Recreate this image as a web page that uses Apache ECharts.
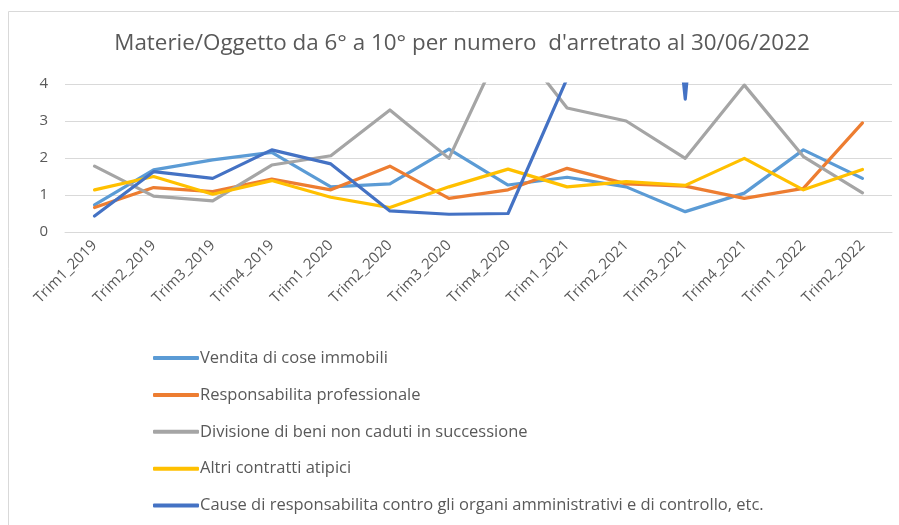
<!DOCTYPE html>
<html>
<head>
<meta charset="utf-8">
<script src="https://cdn.jsdelivr.net/npm/echarts@6/dist/echarts.min.js"></script>
<style>
html,body{margin:0;padding:0;background:#fff;}
#c{width:899px;height:525px;}
</style>
</head>
<body>
<div id="c"></div>
<script>
const categories = ["Trim1_2019","Trim2_2019","Trim3_2019","Trim4_2019","Trim1_2020","Trim2_2020","Trim3_2020","Trim4_2020","Trim1_2021","Trim2_2021","Trim3_2021","Trim4_2021","Trim1_2022","Trim2_2022"];
const seriesNames = ["Vendita di cose immobili","Responsabilita professionale","Divisione di beni non caduti in successione","Altri contratti atipici","Cause di responsabilita contro gli organi amministrativi e di controllo, etc."];
const vendita   = [0.73,1.68,1.95,2.15,1.22,1.30,2.24,1.27,1.48,1.22,0.55,1.05,2.22,1.45];
const respProf  = [0.66,1.20,1.09,1.43,1.14,1.78,0.91,1.14,1.72,1.30,1.24,0.91,1.18,2.95];
const divisione = [1.78,0.97,0.84,1.81,2.06,3.30,1.99,5.40,3.35,3.00,1.99,3.97,2.04,1.06];
const altri     = [1.14,1.50,1.02,1.39,0.94,0.66,1.22,1.70,1.22,1.36,1.26,1.99,1.14,1.69];
const cause     = [0.43,1.63,1.45,2.22,1.84,0.57,0.48,0.50,4.15,19,3.59,21,15,13];
const yTicks = [0,1,2,3,4];
const colors = ["#5B9BD5","#ED7D31","#A5A5A5","#FFC000","#4472C4"];

const allData = [vendita,respProf,divisione,altri,cause];
const chart = echarts.init(document.getElementById('c'), null, {renderer:'canvas'});
const FONT = '"Open Sans", "Noto Sans", sans-serif';
chart.setOption({
  animation:false,
  color: colors,
  title:{
    text:"Materie/Oggetto da 6° a 10° per numero  d'arretrato al 30/06/2022",
    left: 457, top: 28, textAlign:'center',
    textStyle:{fontFamily:FONT, fontSize:22.4, fontWeight:'normal', color:'#595959'}
  },
  graphic:[{type:'rect', shape:{x:8.5,y:11.5,width:1000,height:1000}, style:{fill:'none', stroke:'#D9D9D9', lineWidth:1}, silent:true}],
  grid:{left:65, right:7, top:84, bottom:293, containLabel:false, outerBoundsMode:'none'},
  legend:{
    orient:'vertical', left:153, top:349, padding:0,
    itemWidth:46, itemHeight:4, itemGap:18.9, icon:'roundRect',
    textStyle:{fontFamily:FONT, fontSize:16.5, color:'#595959', lineHeight:18, padding:[0,0,0,-4]},
    data: seriesNames
  },
  xAxis:{
    type:'category', data:categories, boundaryGap:true,
    axisLine:{show:true, lineStyle:{color:'#D9D9D9', width:1}},
    axisTick:{show:false},
    axisLabel:{interval:0, rotate:45, margin:11, fontFamily:FONT, fontSize:15, color:'#595959'}
  },
  yAxis:{
    type:'value', min:yTicks[0], max:yTicks[yTicks.length-1], interval:1,
    axisLine:{show:false}, axisTick:{show:false},
    splitLine:{lineStyle:{color:'#D9D9D9', width:1}},
    axisLabel:{margin:17, fontFamily:FONT, fontSize:15, color:'#595959'}
  },
  series: seriesNames.map((n,i)=>({
    name:n, type:'line', data:allData[i], showSymbol:false, symbol:'none', clip:true,
    lineStyle:{width:3.2, color:colors[i], join:'round', cap:'round'},
    itemStyle:{color:colors[i]}
  }))
});
</script>
</body>
</html>
